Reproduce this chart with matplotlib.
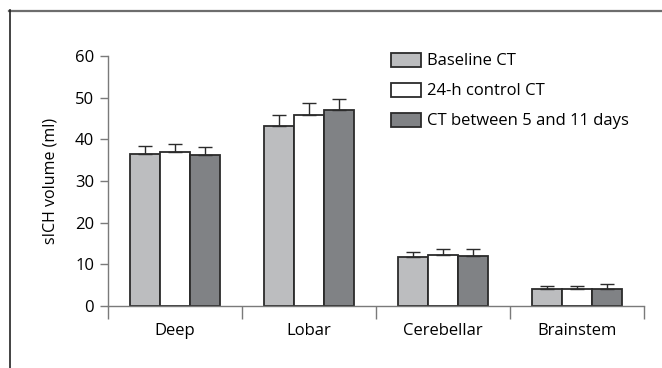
import matplotlib.pyplot as plt
from matplotlib.patches import Patch
from matplotlib.lines import Line2D
import numpy as np

plt.rcParams['font.family'] = ['Open Sans', 'DejaVu Sans']

categories = ['Deep', 'Lobar', 'Cerebellar', 'Brainstem']
series = ['Baseline CT', '24-h control CT', 'CT between 5 and 11 days']
baseline = [36.4, 43.2, 11.8, 4.1]
baseline_err = [2.1, 2.6, 1.2, 0.6]
control24 = [37.0, 45.9, 12.2, 4.2]
control24_err = [2.0, 2.9, 1.4, 0.7]
late = [36.2, 47.0, 12.1, 4.2]
late_err = [1.9, 2.8, 1.5, 1.0]

colors = ['#bcbdbf', '#ffffff', '#808285']
edge = '#2b2b2b'
axcol = '#7a7a7a'
fs = 12

fig = plt.figure(figsize=(6.62, 3.68), dpi=100)
ax = fig.add_axes([108/662, 62/368, 536/662, 250/368])

x = np.arange(len(categories))
w = 0.225
for i, (vals, errs) in enumerate([(baseline, baseline_err), (control24, control24_err), (late, late_err)]):
    ax.bar(x + (i - 1) * w, vals, w, color=colors[i], edgecolor=edge, linewidth=1.3,
           yerr=[np.zeros(len(errs)), errs], capsize=5,
           error_kw=dict(ecolor=edge, elinewidth=1.0, capthick=1.0), zorder=2)

ax.set_xlim(-0.5, 3.5)
ax.set_ylim(0, 60)
ax.set_yticks(range(0, 61, 10))
ax.set_xticks(np.arange(-0.5, 3.6, 1.0))
ax.set_xticklabels([])
ax.set_xticks(x, minor=True)
ax.set_xticklabels(categories, minor=True, fontsize=fs)
ax.tick_params(axis='x', which='minor', length=0, pad=12)
ax.tick_params(axis='x', which='major', length=9, color=axcol, width=1)
ax.tick_params(axis='y', length=6, color=axcol, width=1, labelsize=fs, pad=4)
for s in ['top', 'right']:
    ax.spines[s].set_visible(False)
for s in ['left', 'bottom']:
    ax.spines[s].set_color(axcol)
    ax.spines[s].set_linewidth(1)
ax.set_ylabel('sICH volume (ml)', fontsize=11.5, labelpad=12)

handles = [Patch(facecolor=c, edgecolor=edge, linewidth=1.3) for c in colors]
ax.legend(handles, series, loc='upper left', bbox_to_anchor=(389/662, 1 - 51/368),
          bbox_transform=fig.transFigure, frameon=False, fontsize=fs,
          handlelength=1.8, handleheight=0.9, handletextpad=0.35, labelspacing=0.8,
          borderaxespad=0, borderpad=0.1)

# outer frame partly visible
fig.add_artist(Line2D([9/662, 1], [1 - 10.5/368, 1 - 10.5/368], color='#6d6d6d', lw=1.6,
                      transform=fig.transFigure))
fig.add_artist(Line2D([9.5/662, 9.5/662], [0, 1 - 10/368], color='#222222', lw=1.2,
                      transform=fig.transFigure))

plt.savefig('out.png', dpi=100)
